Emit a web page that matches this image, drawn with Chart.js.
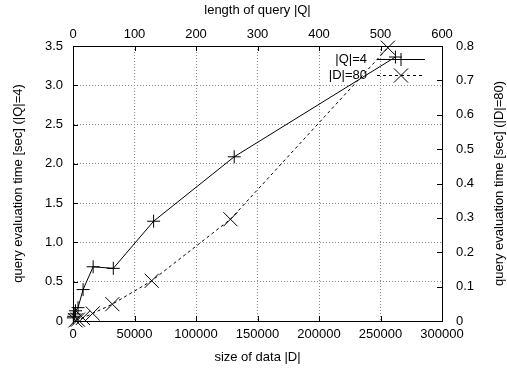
<!DOCTYPE html>
<html>
<head>
<meta charset="utf-8">
<script src="https://cdn.jsdelivr.net/npm/chart.js@4"></script>
<style>body{margin:0;background:#fff}</style>
</head>
<body>
<canvas id="chart" width="507" height="369"></canvas>
<script>
// |Q|=4 : time vs size of data |D|
const dataSizes = [256, 512, 1024, 2048, 4096, 8192, 16384, 32768, 65536, 131072, 262144];
const timesQ4 = [0.04, 0.06, 0.09, 0.13, 0.17, 0.40, 0.69, 0.67, 1.27, 2.09, 3.36];
// |D|=80 : time vs length of query |Q|
const queryLengths = [4, 8, 16, 32, 64, 128, 256, 512];
const timesD80 = [0.002, 0.004, 0.009, 0.022, 0.049, 0.117, 0.296, 0.795];

Chart.defaults.font.family = 'Liberation Sans';
Chart.defaults.font.size = 13;
Chart.defaults.color = '#000';

const toPoints = (xs, ys) => xs.map((x, i) => ({x: x, y: ys[i]}));

const gridStyle = {color: '#888', drawTicks: false};
const borderStyle = {color: '#000', width: 1, dash: [1, 2]};

// gnuplot style tics pointing into the plot
const innerTicks = {
  id: 'innerTicks',
  afterDraw(chart) {
    const ctx = chart.ctx, a = chart.chartArea, s = chart.scales;
    const len = 5;
    ctx.save();
    ctx.strokeStyle = '#000';
    ctx.lineWidth = 1;
    ctx.beginPath();
    s.x.ticks.forEach(t => {
      const p = Math.round(s.x.getPixelForValue(t.value)) + 0.5;
      ctx.moveTo(p, a.bottom); ctx.lineTo(p, a.bottom - len);
    });
    s.x2.ticks.forEach(t => {
      const p = Math.round(s.x2.getPixelForValue(t.value)) + 0.5;
      ctx.moveTo(p, a.top); ctx.lineTo(p, a.top + len);
    });
    s.y.ticks.forEach(t => {
      const p = Math.round(s.y.getPixelForValue(t.value)) + 0.5;
      ctx.moveTo(a.left, p); ctx.lineTo(a.left + len, p);
    });
    s.y2.ticks.forEach(t => {
      const p = Math.round(s.y2.getPixelForValue(t.value)) + 0.5;
      ctx.moveTo(a.right, p); ctx.lineTo(a.right - len, p);
    });
    ctx.stroke();

    // right axis title, reading bottom to top like the left one
    ctx.fillStyle = '#000';
    ctx.font = '13px "Liberation Sans"';
    ctx.textAlign = 'center';
    ctx.textBaseline = 'middle';
    ctx.translate(499, (a.top + a.bottom) / 2);
    ctx.rotate(-Math.PI / 2);
    ctx.fillText('query evaluation time [sec] (|D|=80)', 0, 0);
    ctx.restore();
  }
};

// key in the top right corner, text then sample line
const gnuKey = {
  id: 'gnuKey',
  afterDatasetsDraw(chart) {
    const ctx = chart.ctx;
    const x0 = 377, x1 = 425, textRight = 367;
    chart.data.datasets.forEach((ds, i) => {
      const y = 59 + i * 16;
      ctx.save();
      ctx.fillStyle = '#000';
      ctx.font = '13px "Liberation Sans"';
      ctx.textAlign = 'right';
      ctx.textBaseline = 'middle';
      ctx.fillText(ds.label, textRight, y);
      ctx.strokeStyle = '#000';
      ctx.lineWidth = 1;
      ctx.setLineDash(ds.borderDash || []);
      ctx.beginPath();
      ctx.moveTo(x0, y + 0.5); ctx.lineTo(x1, y + 0.5);
      ctx.stroke();
      ctx.setLineDash([]);
      Chart.helpers.drawPoint(ctx, {
        pointStyle: ds.pointStyle, radius: ds.pointRadius, rotation: 0, borderWidth: 1
      }, (x0 + x1) / 2, y + 0.5);
      ctx.restore();
    });
  }
};

new Chart(document.getElementById('chart'), {
  type: 'scatter',
  data: {
    datasets: [
      {
        label: '|Q|=4',
        data: toPoints(dataSizes, timesQ4),
        xAxisID: 'x', yAxisID: 'y',
        showLine: true,
        borderColor: '#000', borderWidth: 1,
        pointStyle: 'cross', pointRadius: 6.5,
        pointBorderColor: '#000', pointBorderWidth: 1,
        backgroundColor: 'transparent',
        clip: false
      },
      {
        label: '|D|=80',
        data: toPoints(queryLengths, timesD80),
        xAxisID: 'x2', yAxisID: 'y2',
        showLine: true,
        borderColor: '#000', borderWidth: 1, borderDash: [3, 3],
        pointStyle: 'crossRot', pointRadius: 10,
        pointBorderColor: '#000', pointBorderWidth: 1,
        backgroundColor: 'transparent',
        clip: false
      }
    ]
  },
  options: {
    responsive: false,
    animation: false,
    layout: {padding: 0},
    plugins: {legend: {display: false}, tooltip: {enabled: false}},
    scales: {
      x: {
        type: 'linear', position: 'bottom', min: 0, max: 300000,
        ticks: {stepSize: 50000, padding: 6, maxRotation: 0, callback: v => String(v)},
        grid: gridStyle, border: borderStyle,
        title: {display: true, text: 'size of data |D|', padding: {top: 0, bottom: 4}},
        afterFit: s => { s.height = 48; s.paddingLeft = 0; s.paddingRight = 0; }
      },
      x2: {
        type: 'linear', position: 'top', min: 0, max: 600,
        ticks: {stepSize: 100, padding: 4, maxRotation: 0, callback: v => String(v)},
        grid: {display: false, drawTicks: false}, border: {color: '#000', width: 1},
        title: {display: true, text: 'length of query |Q|', padding: {top: 3, bottom: 0}},
        afterFit: s => { s.height = 46; s.paddingLeft = 0; s.paddingRight = 0; }
      },
      y: {
        type: 'linear', position: 'left', min: 0, max: 3.5,
        ticks: {stepSize: 0.5, padding: 10},
        grid: gridStyle, border: borderStyle,
        title: {display: true, text: 'query evaluation time [sec] (|Q|=4)', padding: {top: 11, bottom: 0}},
        afterFit: s => { s.width = 73; s.paddingTop = 0; s.paddingBottom = 0; }
      },
      y2: {
        type: 'linear', position: 'right', min: 0, max: 0.8,
        ticks: {stepSize: 0.1, padding: 14},
        grid: {display: false, drawTicks: false}, border: {color: '#000', width: 1},
        afterFit: s => { s.width = 65; s.paddingTop = 0; s.paddingBottom = 0; }
      }
    }
  },
  plugins: [innerTicks, gnuKey]
});
</script>
</body>
</html>
